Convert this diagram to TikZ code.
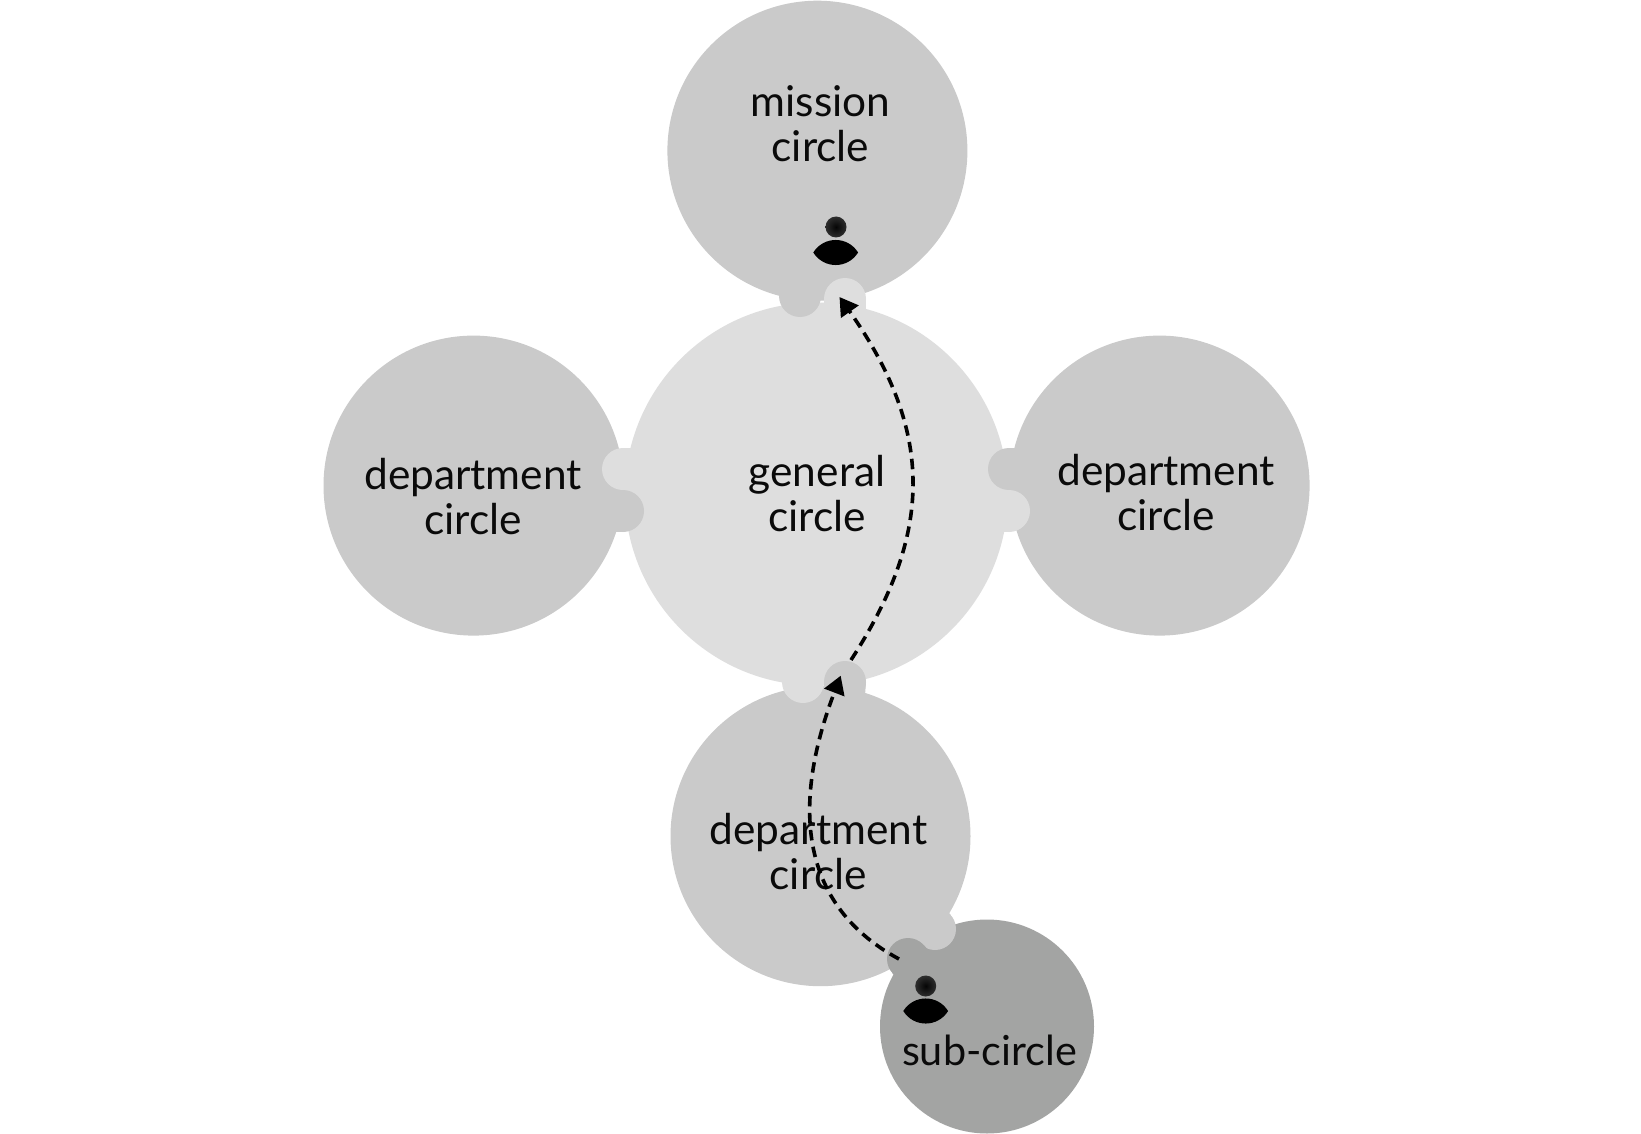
\documentclass[tikz,border=0pt]{standalone}
\usepackage{fontspec}
\setmainfont{Lato}
\usetikzlibrary{arrows.meta}
\definecolor{deptgray}{HTML}{CACACA}
\definecolor{gengray}{HTML}{DEDEDE}
\definecolor{subgray}{HTML}{A3A4A3}
\definecolor{inkblack}{HTML}{0A0A0A}
\tikzset{
  big/.style={circle,inner sep=0pt,minimum size=#1*2pt},
  tabdot/.style={circle,inner sep=0pt,minimum size=42pt},
  lab/.style={align=center,font=\fontsize{42.4}{45}\selectfont,text=inkblack,inner sep=0pt},
  sublab/.style={align=center,font=\fontsize{41.4}{45}\selectfont,text=inkblack,inner sep=0pt},
  head/.style={circle,inner sep=0pt,minimum size=21pt,inner color=black!98,outer color=black!82},
  flow/.style={line width=3.6pt,dash pattern=on 10.5pt off 6.5pt,-{Triangle[length=18pt,width=21pt]},black},
}
\newcommand{\lensbody}[2]{\fill[black] (#1-22.4,#2) .. controls (#1-12,#2-16.7) and (#1+12,#2-16.7) .. (#1+22.4,#2) .. controls (#1+12,#2+16.7) and (#1-12,#2+16.7) .. (#1-22.4,#2) -- cycle;}
\begin{document}
\begin{tikzpicture}[x=1pt,y=-1pt]
\useasboundingbox (0,0) rectangle (1641,1134);
% big circles
\node[big=191.5,fill=gengray] (general) at (816.4,494) {};
\node[big=150,fill=deptgray] (mission) at (817.4,150.7) {};
\node[big=150,fill=deptgray] (left) at (473.5,485.6) {};
\node[big=150,fill=deptgray] (right) at (1159.6,485.6) {};
\node[big=150,fill=deptgray] (bottom) at (820.5,836.2) {};
\node[big=107,fill=subgray] (sub) at (987,1026.5) {};
% mission / general joint
\fill[deptgray] (779,280) rectangle (821,296);
\node[tabdot,fill=deptgray] (mtab) at (800,296) {};
\fill[gengray] (824,299) rectangle (866,320);
\node[tabdot,fill=gengray] (gttab) at (845,299) {};
% general / bottom joint
\fill[deptgray] (824,682) -- (866,682) -- (864.5,702) -- (824,702) -- cycle;
\node[tabdot,fill=deptgray] (btab) at (845,682) {};
\fill[gengray] (782,660) rectangle (824,682);
\node[tabdot,fill=gengray] (gbtab) at (803,682) {};
% left joint
\fill[gengray] (623,448) rectangle (650,490);
\node[tabdot,fill=gengray] (gltab) at (623,469) {};
\fill[deptgray] (598,490) rectangle (623,532);
\node[tabdot,fill=deptgray] (ltab) at (623,511) {};
% right joint
\fill[deptgray] (1009,448) rectangle (1035,490);
\node[tabdot,fill=deptgray] (rtab) at (1009,469) {};
\fill[gengray] (984,490) rectangle (1009,532);
\node[tabdot,fill=gengray] (grtab) at (1009,511) {};
% bottom / sub joint
\fill[deptgray] (919.2,942.9) -- (950.8,915.1) -- (937.6,900) -- (906,928) -- cycle;
\node[tabdot,fill=deptgray] (bstab) at (935,929) {};
\fill[subgray] (892.2,972.9) -- (923.8,945.1) -- (937,960) -- (905.4,987.9) -- cycle;
\node[tabdot,fill=subgray] (stab) at (908,959) {};
% persons
\node[head] (h1) at (836,227) {};
\lensbody{835.7}{252.5}
\node[head] (h2) at (925.7,986) {};
\lensbody{925.7}{1011}
% labels
\node[lab] (tm) at (820.5,124) {mission\\circle};
\node[lab] (tg) at (817,494) {general\\circle};
\node[lab] (tl) at (473,497) {department\\circle};
\node[lab] (tr) at (1166,493) {department\\circle};
\node[lab] (tb) at (818.5,852) {department\\circle};
\node[sublab] (ts) at (989.5,1050) {sub-circle};
% connectors
\coordinate (a1) at (851,660);
\coordinate (a2) at (839.5,297);
\coordinate (b1) at (899,959);
\coordinate (b2) at (840.7,675.7);
\draw[flow] (a1) .. controls (932,535) and (936,434) .. (a2);
\draw[flow] (b1) .. controls (790,900) and (797,790) .. (b2);
\end{tikzpicture}
\end{document}
